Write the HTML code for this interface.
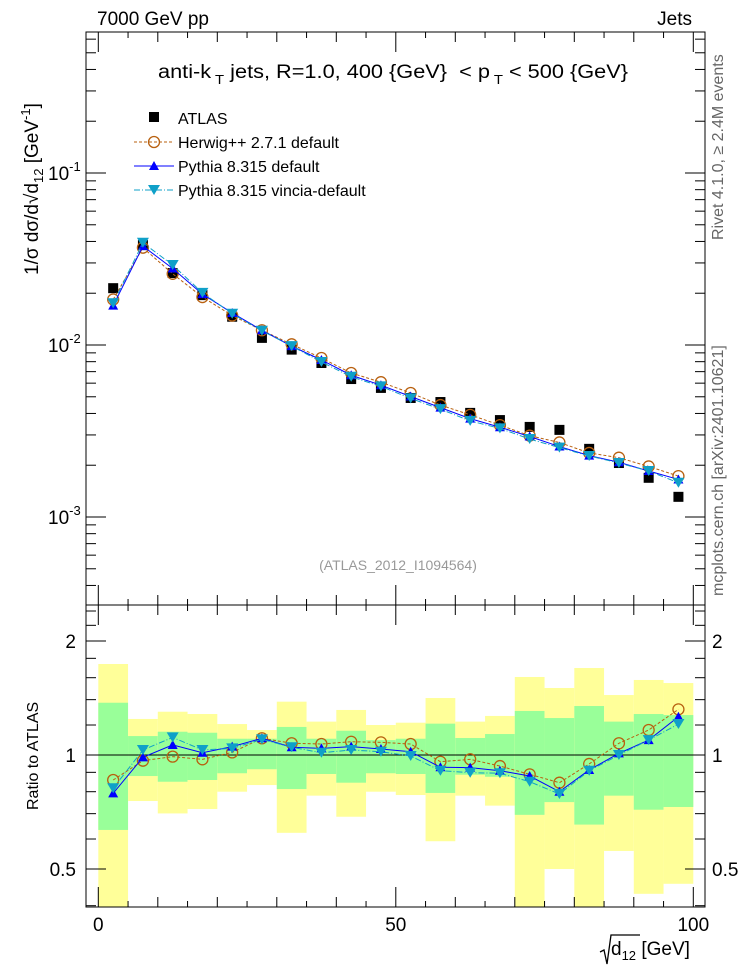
<!DOCTYPE html>
<html><head><meta charset="utf-8"><style>
body{margin:0;background:#fff;width:746px;height:972px;overflow:hidden;font-family:"Liberation Sans",sans-serif}
svg text{font-family:"Liberation Sans",sans-serif}
</style></head><body>
<svg id="c" width="746" height="972" viewBox="0 0 746 972" xmlns="http://www.w3.org/2000/svg"></svg>
<script>
const binCenters=[2.5,7.5,12.5,17.5,22.5,27.5,32.5,37.5,42.5,47.5,52.5,57.5,62.5,67.5,72.5,77.5,82.5,87.5,92.5,97.5];
const atlas=[0.0214,0.0381,0.0262,0.0195,0.0146,0.0110,0.0094,0.00786,0.00634,0.00563,0.00492,0.00466,0.00403,0.00366,0.00334,0.00321,0.00249,0.00206,0.00169,0.00131];
const herwigRatio=[0.859,0.966,0.990,0.974,1.016,1.107,1.074,1.069,1.084,1.080,1.069,0.960,0.974,0.935,0.889,0.845,0.947,1.074,1.164,1.320];
const pythiaRatio=[0.792,0.986,1.063,1.014,1.052,1.107,1.048,1.041,1.052,1.037,1.020,0.928,0.926,0.909,0.880,0.800,0.913,1.010,1.095,1.262];
const vinciaRatio=[0.817,1.031,1.113,1.031,1.041,1.100,1.048,1.014,1.031,1.020,0.994,0.909,0.898,0.895,0.850,0.789,0.909,1.000,1.095,1.207];
const yellowHi=[1.739,1.245,1.301,1.283,1.207,1.164,1.383,1.225,1.315,1.200,1.217,1.414,1.225,1.268,1.607,1.503,1.697,1.440,1.578,1.549];
const greenHi=[1.374,1.122,1.152,1.145,1.104,1.104,1.186,1.104,1.159,1.095,1.104,1.210,1.109,1.136,1.307,1.252,1.347,1.225,1.283,1.275];
const greenLo=[0.634,0.880,0.850,0.859,0.895,0.917,0.813,0.891,0.845,0.895,0.891,0.794,0.887,0.876,0.695,0.751,0.655,0.781,0.717,0.729];
const yellowLo=[0.3,0.756,0.701,0.720,0.800,0.833,0.623,0.781,0.687,0.800,0.784,0.592,0.781,0.735,0.3,0.5,0.3,0.558,0.430,0.457];
const binWidth=5;

const S=document.getElementById('c');const NS='http://www.w3.org/2000/svg';
function el(t,a,p){const e=document.createElementNS(NS,t);for(const k in a)e.setAttribute(k,a[k]);(p||S).appendChild(e);return e;}
const L=86,R=705,T1=32,B1=605,T2=605,B2=907;
const X=v=>98.3+5.95*v;
const Y=v=>345-172*Math.log10(v/0.01);
const YR=r=>755-114*Math.log2(r);

const defs=el('defs',{});
const cpth=el('clipPath',{id:'cr'},defs);
el('rect',{x:L,y:T2,width:R-L,height:B2-T2},cpth);
const gBand=el('g',{'clip-path':'url(#cr)'});
binCenters.forEach((c,i)=>{
  const x0=X(c-binWidth/2),x1=X(c+binWidth/2);
  const y=el('rect',{x:x0,y:YR(yellowHi[i]),width:x1-x0,height:YR(yellowLo[i])-YR(yellowHi[i]),fill:'#ffff99'},gBand);
  
  
  const g=el('rect',{x:x0,y:YR(greenHi[i]),width:x1-x0,height:YR(greenLo[i])-YR(greenHi[i]),fill:'#99ff99'},gBand);
  
  
});
el('line',{x1:L,x2:R,y1:YR(1),y2:YR(1),stroke:'#000','stroke-width':1});

el('rect',{x:L,y:T1,width:R-L,height:B1-T1,fill:'none',stroke:'#000'});
el('rect',{x:L,y:T2,width:R-L,height:B2-T2,fill:'none',stroke:'#000'});

for(let e=-4;e<=0;e++)for(let m=1;m<10;m++){const v=m*Math.pow(10,e);const y=Y(v);if(y<T1||y>B1)continue;const len=m==1?20:10;
 el('line',{x1:L,x2:L+len,y1:y,y2:y,stroke:'#000'});el('line',{x1:R,x2:R-len,y1:y,y2:y,stroke:'#000'});}
[['10','-1',0.1],['10','-2',0.01],['10','-3',0.001]].forEach(t=>{const y=Y(t[2]);const tx=el('text',{x:48,y:y+7,'font-size':19});tx.innerHTML=t[0]+'<tspan dy="-9" font-size="13">'+t[1]+'</tspan>';});
[0.4,0.5,0.6,0.7,0.8,0.9,1,1.2,1.4,1.6,1.8,2,2.2,2.4].forEach(r=>{const y=YR(r);if(y<T2||y>B2)return;const len=(r==0.5||r==1||r==2)?20:10;
 el('line',{x1:L,x2:L+len,y1:y,y2:y,stroke:'#000'});el('line',{x1:R,x2:R-len,y1:y,y2:y,stroke:'#000'});});
[['2',2],['1',1],['0.5',0.5]].forEach(t=>{el('text',{x:76,y:YR(t[1])+7,'font-size':19,'text-anchor':'end'}).textContent=t[0];el('text',{x:712,y:YR(t[1])+7,'font-size':19}).textContent=t[0];});
for(let v=0;v<=100;v+=5){const x=X(v);const len=v%50==0?20:(v%10==0?10:6);
 el('line',{x1:x,x2:x,y1:B2,y2:B2-len,stroke:'#000'});el('line',{x1:x,x2:x,y1:B1,y2:B1-len,stroke:'#000'});el('line',{x1:x,x2:x,y1:T1,y2:T1+len,stroke:'#000'});el('line',{x1:x,x2:x,y1:T2,y2:T2+len,stroke:'#000'});}
[0,50,100].forEach(v=>el('text',{x:X(v),y:931,'font-size':19,'text-anchor':'middle'}).textContent=v);

function marker(type,x,y,col,parent){
 if(type=='sq')return el('rect',{x:x-5,y:y-5,width:10,height:10,fill:'#000'},parent);
 if(type=='circ')return el('circle',{cx:x,cy:y,r:5.5,fill:'none',stroke:col,'stroke-width':1.3},parent);
 if(type=='up')return el('path',{d:`M${x-5},${y+4}L${x+5},${y+4}L${x},${y-5}Z`,fill:col},parent);
 return el('path',{d:`M${x-6},${y-5}L${x+6},${y-5}L${x},${y+5}Z`,fill:col},parent);
}
function series(name,vals,yf,col,dash,mk){
 const g=el('g',{});
 const d=vals.map((v,i)=>(i?'L':'M')+X(binCenters[i])+','+yf(v)).join('');
 el('path',{d,fill:'none',stroke:col,'stroke-width':1,'stroke-dasharray':dash},g);
 vals.forEach((v,i)=>marker(mk,X(binCenters[i]),yf(v),col,g));
}
const herw=atlas.map((a,i)=>a*herwigRatio[i]),pyth=atlas.map((a,i)=>a*pythiaRatio[i]),vinc=atlas.map((a,i)=>a*vinciaRatio[i]);
const ga=el('g',{});
atlas.forEach((v,i)=>marker('sq',X(binCenters[i]),Y(v),'#000',ga));
series('herwig-line',herw,Y,'#b8600f','3,2','circ');
series('pythia-line',pyth,Y,'#0000ff','','up');
series('vincia-line',vinc,Y,'#0fa0c8','6,2,1,2','down');
series('herwig-ratio',herwigRatio,YR,'#b8600f','3,2','circ');
series('pythia-ratio',pythiaRatio,YR,'#0000ff','','up');
series('vincia-ratio',vinciaRatio,YR,'#0fa0c8','6,2,1,2','down');

const lg=el('g',{});
marker('sq',154,117,'#000',lg);el('text',{x:178,y:124,'font-size':16},lg).textContent='ATLAS';
[['Herwig++ 2.7.1 default','#b8600f','3,2','circ',142],['Pythia 8.315 default','#0000ff','','up',166],['Pythia 8.315 vincia-default','#0fa0c8','6,2,1,2','down',190]].forEach(l=>{
 el('line',{x1:134,x2:174,y1:l[4],y2:l[4],stroke:l[1],'stroke-dasharray':l[2]},lg);marker(l[3],154,l[4],l[1],lg);
 el('text',{x:178,y:l[4]+6,'font-size':16},lg).textContent=l[0];});

el('text',{x:97,y:25,'font-size':19}).textContent='7000 GeV pp';
el('text',{x:692,y:25,'font-size':19,'text-anchor':'end'}).textContent='Jets';
const t=el('text',{x:158,y:78,'font-size':19,textLength:470,lengthAdjust:'spacingAndGlyphs'});t.innerHTML='anti-k<tspan dy="6" font-size="13"> T</tspan><tspan dy="-6"> jets, R=1.0, 400 {GeV}   &#160;&lt; p</tspan><tspan dy="6" font-size="13"> T</tspan><tspan dy="-6"> &lt; 500 {GeV}</tspan>';
el('text',{x:398,y:570,'font-size':14,fill:'#999','text-anchor':'middle'}).textContent='(ATLAS_2012_I1094564)';
el('text',{x:0,y:0,'font-size':16,fill:'#666',transform:'translate(723,240) rotate(-90)'}).textContent='Rivet 4.1.0, \u2265 2.4M events';
el('text',{x:0,y:0,'font-size':16,fill:'#666',transform:'translate(723,596) rotate(-90)'}).textContent='mcplots.cern.ch [arXiv:2401.10621]';
const yl=el('text',{x:0,y:0,'font-size':19,transform:'translate(38,275) rotate(-90)'});yl.innerHTML='1/\u03c3 d\u03c3/d\u221ad<tspan dy="5" font-size="13">12</tspan><tspan dy="-5"> [GeV</tspan><tspan dy="-8" font-size="13">-1</tspan><tspan dy="8">]</tspan>';
el('path',{d:'M600,952 L604,950 L607,964 L611,935 L640,935',fill:'none',stroke:'#000','stroke-width':1.3});
const xl=el('text',{x:611,y:955,'font-size':19});xl.innerHTML='d<tspan dy="5" font-size="13">12</tspan><tspan dy="-5"> [GeV]</tspan>';
el('text',{x:0,y:0,'font-size':16,transform:'translate(38,810) rotate(-90)'}).textContent='Ratio to ATLAS';
</script>
</body></html>
